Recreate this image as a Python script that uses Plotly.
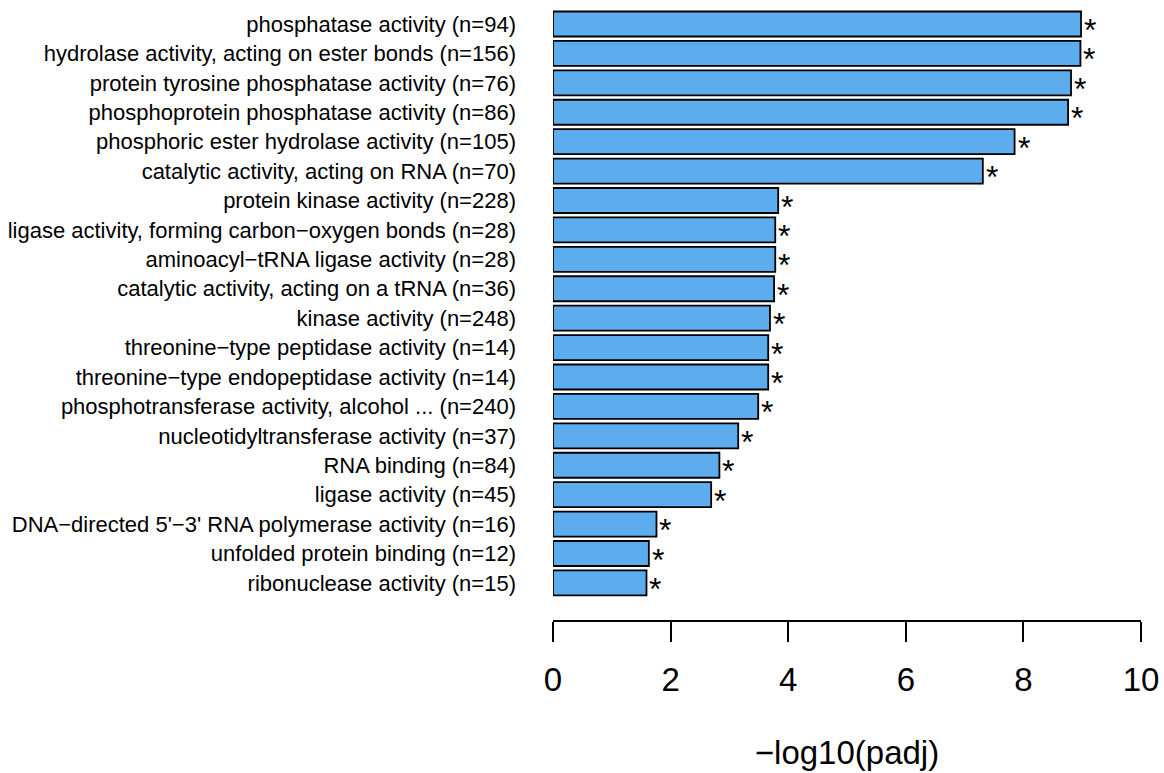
import plotly.graph_objects as go

terms = [
    "phosphatase activity (n=94)",
    "hydrolase activity, acting on ester bonds (n=156)",
    "protein tyrosine phosphatase activity (n=76)",
    "phosphoprotein phosphatase activity (n=86)",
    "phosphoric ester hydrolase activity (n=105)",
    "catalytic activity, acting on RNA (n=70)",
    "protein kinase activity (n=228)",
    "ligase activity, forming carbon\u2212oxygen bonds (n=28)",
    "aminoacyl\u2212tRNA ligase activity (n=28)",
    "catalytic activity, acting on a tRNA (n=36)",
    "kinase activity (n=248)",
    "threonine\u2212type peptidase activity (n=14)",
    "threonine\u2212type endopeptidase activity (n=14)",
    "phosphotransferase activity, alcohol ... (n=240)",
    "nucleotidyltransferase activity (n=37)",
    "RNA binding (n=84)",
    "ligase activity (n=45)",
    "DNA\u2212directed 5'\u22123' RNA polymerase activity (n=16)",
    "unfolded protein binding (n=12)",
    "ribonuclease activity (n=15)",
]
neglog_padj = [8.98, 8.97, 8.81, 8.76, 7.85, 7.31, 3.83, 3.78, 3.78, 3.76,
               3.69, 3.66, 3.66, 3.49, 3.15, 2.83, 2.69, 1.76, 1.63, 1.59]
signif = ["*"] * len(terms)
x_ticks = [0, 2, 4, 6, 8, 10]

pos = list(range(len(terms)))
FONT = "Liberation Sans, Arial, sans-serif"

fig = go.Figure()
fig.add_trace(go.Bar(
    x=neglog_padj, y=pos, orientation="h", width=0.85,
    marker=dict(color="#5CACEE", line=dict(color="black", width=1.8)),
    hoverinfo="x+y",
))

for xv, yv, s in zip(neglog_padj, pos, signif):
    fig.add_annotation(
        x=xv, y=yv, text=s, showarrow=False, xanchor="left", yanchor="middle",
        xshift=1, yshift=-6, height=24, valign="middle",
        font=dict(size=32, color="black", family=FONT),
    )

fig.update_layout(
    width=1164, height=773,
    margin=dict(l=553, r=21, t=5, b=153),
    plot_bgcolor="white", paper_bgcolor="white",
    showlegend=False,
    font=dict(family=FONT, color="black"),
    xaxis=dict(
        range=[0, 10], tickvals=x_ticks, ticktext=[str(v) for v in x_ticks],
        showgrid=False, zeroline=False, showline=True, linecolor="black", linewidth=1.5,
        ticks="outside", ticklen=20, tickwidth=1.5, tickcolor="black",
        tickfont=dict(size=33), ticklabelstandoff=10,
        title=dict(text="\u2212log10(padj)", font=dict(size=33), standoff=44),
    ),
    yaxis=dict(
        range=[20.26, -0.646], tickvals=pos, ticktext=terms,
        showgrid=False, zeroline=False, showline=False, ticks="",
        tickfont=dict(size=22), ticklabelstandoff=36,
    ),
)

fig.write_html("out.html", config={"displayModeBar": False},
               post_script="document.body.style.margin='0';")
